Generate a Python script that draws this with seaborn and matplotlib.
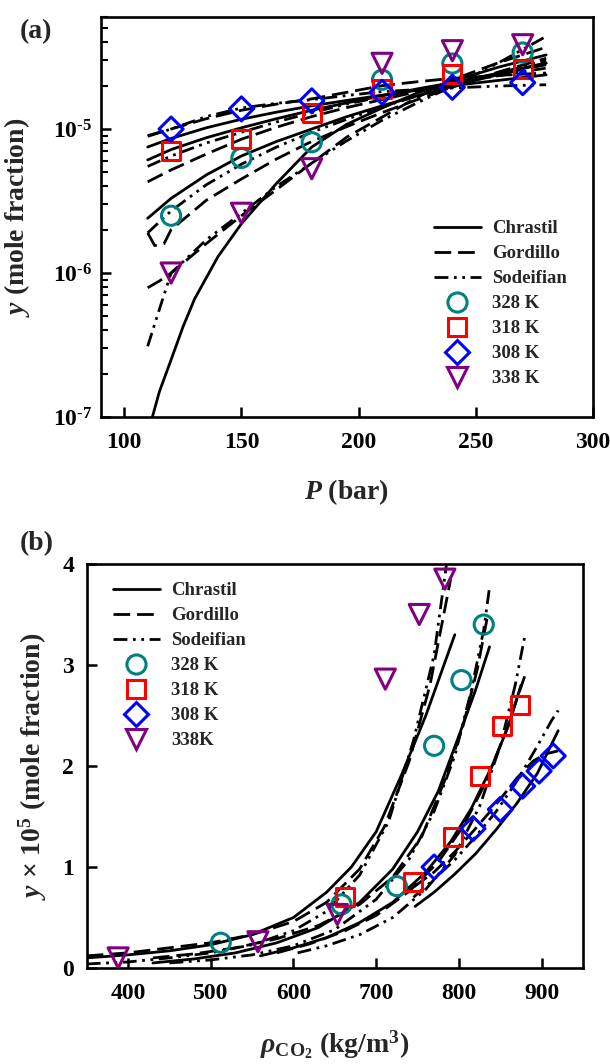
import matplotlib
matplotlib.use("Agg")
import matplotlib.pyplot as plt
from matplotlib.lines import Line2D
from matplotlib.ticker import FixedLocator, FixedFormatter, LogLocator, NullFormatter
import numpy as np
import seaborn as sns

sns.set_theme(style="ticks")
plt.rcParams.update({
    "font.family": ["Liberation Serif", "DejaVu Serif"],
    "font.weight": "bold",
    "axes.labelweight": "bold",
    "mathtext.fontset": "custom",
    "mathtext.rm": "Liberation Serif:bold",
    "mathtext.it": "Liberation Serif:italic:bold",
    "mathtext.bf": "Liberation Serif:bold",
    "axes.linewidth": 1.9,
    "axes.edgecolor": "black",
    "xtick.color": "black",
    "ytick.color": "black",
})

# ---------------- experimental solubility (y x 10^5) ----------------
temps = ["328 K", "318 K", "308 K", "338 K"]
pressure = [120, 150, 180, 210, 240, 270]            # bar
y_328 = [0.25, 0.63, 0.81, 2.2, 2.85, 3.4]
y_318 = [0.7, 0.85, 1.3, 1.9, 2.4, 2.6]
y_308 = [1.0, 1.38, 1.57, 1.8, 1.95, 2.1]
y_338 = [0.1, 0.26, 0.53, 2.86, 3.5, 3.85]
# CO2 density at each measured state (kg/m3)
rho_328 = [512, 658, 725, 770, 803, 830]
rho_318 = [662, 745, 793, 826, 852, 874]
rho_308 = [770, 817, 850, 877, 897, 914]
rho_338 = [388, 557, 653, 711, 752, 783]

# ---------------- model correlations vs pressure (y x 10^5) ----------------
p_grid = [110, 120, 135, 150, 165, 180, 195, 210, 225, 240, 260, 280]
chr_a_308 = [0.75, 0.86, 1.02, 1.17, 1.31, 1.45, 1.58, 1.72, 1.86, 2.0, 2.18, 2.38]
gor_a_308 = [0.9, 1.0, 1.18, 1.35, 1.49, 1.62, 1.8, 2.0, 2.13, 2.25, 2.36, 2.45]
sod_a_308 = [0.89, 1.0, 1.22, 1.4, 1.51, 1.6, 1.71, 1.82, 1.88, 1.93, 1.99, 2.03]
chr_a_318 = [0.61, 0.72, 0.87, 1.02, 1.18, 1.35, 1.52, 1.7, 1.9, 2.1, 2.45, 2.87]
gor_a_318 = [0.43, 0.52, 0.67, 0.85, 1.03, 1.22, 1.41, 1.6, 1.82, 2.05, 2.4, 2.8]
sod_a_318 = [0.55, 0.65, 0.8, 0.95, 1.12, 1.3, 1.49, 1.68, 1.88, 2.08, 2.35, 2.65]
chr_a_328 = [0.24, 0.33, 0.48, 0.65, 0.82, 1.0, 1.22, 1.45, 1.7, 1.98, 2.4, 2.87]
sod_a_328 = [0.19, 0.27, 0.41, 0.57, 0.75, 0.95, 1.17, 1.42, 1.7, 2.0, 2.45, 3.0]
p_gor_328 = [110, 113, 117, 120, 135, 150, 165, 180, 195, 210, 225, 240, 260, 280]
gor_a_328 = [0.19, 0.155, 0.16, 0.2, 0.32, 0.45, 0.62, 0.82, 1.04, 1.3, 1.6, 1.95, 2.5, 3.1]
p_chr_338 = [112, 115, 120, 125, 130, 140, 150, 165, 180, 195, 210, 225, 240, 260, 280]
chr_a_338 = [0.01, 0.015, 0.025, 0.042, 0.066, 0.13, 0.22, 0.42, 0.75, 1.08, 1.4, 1.78, 2.15, 2.7, 3.27]
p_338 = [110, 115, 120, 135, 150, 165, 180, 195, 210, 225, 240, 260, 280]
gor_a_338 = [0.079, 0.088, 0.1, 0.16, 0.25, 0.38, 0.58, 0.88, 1.21, 1.66, 2.2, 2.9, 3.7]
sod_a_338 = [0.031, 0.056, 0.1, 0.17, 0.26, 0.4, 0.58, 0.83, 1.15, 1.52, 1.98, 2.9, 4.4]

# ---------------- model correlations vs density (y x 10^5) ----------------
rho_chr_338 = [350, 400, 450, 500, 550, 600, 640, 670, 700, 730, 760, 795]
chr_b_338 = [0.1, 0.13, 0.17, 0.23, 0.33, 0.5, 0.75, 1.0, 1.35, 1.9, 2.5, 3.3]
rho_gor_338 = [350, 400, 450, 500, 550, 600, 640, 680, 710, 740, 765, 790]
gor_b_338 = [0.12, 0.15, 0.2, 0.25, 0.33, 0.46, 0.65, 0.98, 1.4, 2.05, 2.8, 3.85]
rho_sod_338 = [350, 400, 450, 500, 550, 600, 640, 680, 715, 745, 770, 785]
sod_b_338 = [0.04, 0.06, 0.1, 0.15, 0.23, 0.37, 0.56, 0.92, 1.45, 2.25, 3.1, 4.0]
rho_chr_328 = [430, 480, 530, 580, 630, 680, 720, 750, 775, 800, 820, 837]
chr_b_328 = [0.05, 0.09, 0.15, 0.25, 0.4, 0.65, 0.98, 1.35, 1.75, 2.3, 2.75, 3.18]
rho_gor_328 = [430, 480, 530, 580, 630, 680, 720, 755, 783, 805, 822, 835]
gor_b_328 = [0.1, 0.14, 0.2, 0.29, 0.42, 0.63, 0.9, 1.3, 1.86, 2.4, 2.95, 3.5]
rho_sod_328 = [450, 500, 550, 600, 650, 700, 740, 770, 795, 815, 830, 837]
sod_b_328 = [0.05, 0.08, 0.13, 0.22, 0.38, 0.68, 1.08, 1.55, 2.1, 2.75, 3.35, 3.77]
rho_chr_318 = [560, 600, 640, 680, 720, 760, 790, 815, 840, 860, 875]
chr_b_318 = [0.12, 0.2, 0.3, 0.45, 0.65, 0.95, 1.25, 1.58, 2.0, 2.4, 2.8]
rho_gor_318 = [580, 620, 660, 700, 740, 775, 805, 830, 855, 880]
gor_b_318 = [0.15, 0.24, 0.36, 0.52, 0.76, 1.05, 1.4, 1.8, 2.3, 2.9]
rho_sod_318 = [605, 640, 680, 720, 760, 795, 825, 850, 868, 880]
sod_b_318 = [0.15, 0.22, 0.33, 0.5, 0.78, 1.12, 1.6, 2.2, 2.8, 3.3]
rho_chr_308 = [747, 770, 795, 820, 845, 870, 895, 920]
chr_b_308 = [0.61, 0.75, 0.93, 1.13, 1.37, 1.63, 1.93, 2.35]
rho_gor_308 = [745, 770, 795, 820, 845, 870, 890, 905, 920]
gor_b_308 = [0.8, 0.95, 1.15, 1.38, 1.62, 1.88, 2.05, 2.12, 2.15]
rho_sod_308 = [745, 770, 795, 820, 845, 870, 895, 912, 920]
sod_b_308 = [0.7, 0.88, 1.07, 1.3, 1.55, 1.85, 2.2, 2.45, 2.55]

# ---------------- styles ----------------
LW = 2.0
STYLE = {
    "Chrastil": "-",
    "Gordillo": (0, (6, 2.5)),
    "Sodeifian": (0, (5, 2, 1, 2, 1, 2)),
}
MARK = {
    "328 K": ("o", "#008080", 190),
    "318 K": ("s", "#ff0000", 170),
    "308 K": ("D", "#0000ff", 150),
    "338 K": ("v", "#800080", 210),
}

curves_a = [
    ("Chrastil", p_grid, chr_a_308), ("Gordillo", p_grid, gor_a_308), ("Sodeifian", p_grid, sod_a_308),
    ("Chrastil", p_grid, chr_a_318), ("Gordillo", p_grid, gor_a_318), ("Sodeifian", p_grid, sod_a_318),
    ("Chrastil", p_grid, chr_a_328), ("Gordillo", p_gor_328, gor_a_328), ("Sodeifian", p_grid, sod_a_328),
    ("Chrastil", p_chr_338, chr_a_338), ("Gordillo", p_338, gor_a_338), ("Sodeifian", p_338, sod_a_338),
]
curves_b = [
    ("Chrastil", rho_chr_308, chr_b_308), ("Gordillo", rho_gor_308, gor_b_308), ("Sodeifian", rho_sod_308, sod_b_308),
    ("Chrastil", rho_chr_318, chr_b_318), ("Gordillo", rho_gor_318, gor_b_318), ("Sodeifian", rho_sod_318, sod_b_318),
    ("Chrastil", rho_chr_328, chr_b_328), ("Gordillo", rho_gor_328, gor_b_328), ("Sodeifian", rho_sod_328, sod_b_328),
    ("Chrastil", rho_chr_338, chr_b_338), ("Gordillo", rho_gor_338, gor_b_338), ("Sodeifian", rho_sod_338, sod_b_338),
]
exp_y = {"328 K": y_328, "318 K": y_318, "308 K": y_308, "338 K": y_338}
exp_rho = {"328 K": rho_328, "318 K": rho_318, "308 K": rho_308, "338 K": rho_338}

W, H = 610, 1064
fig = plt.figure(figsize=(W / 100, H / 100), dpi=100)


def px_axes(left, top, right, bottom):
    return fig.add_axes([left / W, 1 - bottom / H, (right - left) / W, (bottom - top) / H])


ax_a = px_axes(100.8, 17, 593, 417)
ax_b = px_axes(86.7, 564, 583, 968)

# ---------------- panel (a): solubility vs pressure ----------------
for model, x, y in curves_a:
    sns.lineplot(x=x, y=np.array(y) * 1e-5, ax=ax_a, color="black", lw=LW,
                 linestyle=STYLE[model], legend=False, sort=False, estimator=None)
for t in temps:
    m, c, s = MARK[t]
    sns.scatterplot(x=pressure, y=np.array(exp_y[t]) * 1e-5, ax=ax_a, marker=m, s=s,
                    facecolor="none", edgecolor=c, linewidth=2.2, legend=False, zorder=4)

ax_a.set_yscale("log")
ax_a.set_xlim(90, 300)
ax_a.set_ylim(1e-7, 6e-5)
ax_a.xaxis.set_major_locator(FixedLocator([100, 150, 200, 250, 300]))
ax_a.yaxis.set_major_locator(FixedLocator([1e-7, 1e-6, 1e-5]))
ax_a.yaxis.set_major_formatter(FixedFormatter(
    [r"$10^{\text{-}7}$", r"$10^{\text{-}6}$", r"$10^{\text{-}5}$"]))
ax_a.yaxis.set_minor_locator(LogLocator(base=10, subs=np.arange(2, 10)))
ax_a.yaxis.set_minor_formatter(NullFormatter())
ax_a.tick_params(axis="x", which="major", direction="in", length=7, width=1.8,
                 labelsize=17, pad=11)
ax_a.tick_params(axis="y", which="major", direction="in", length=7, width=1.8,
                 labelsize=17, pad=6)
ax_a.tick_params(axis="y", which="minor", direction="in", length=5, width=1.5)
ax_a.set_xlabel(r"$P$ (bar)", fontsize=20, fontweight="bold")
ax_a.set_ylabel(r"$y$ (mole fraction)", fontsize=20, fontweight="bold")
ax_a.xaxis.set_label_coords(0.5, -0.15)
ax_a.yaxis.set_label_coords(-0.14, 0.5)

# ---------------- panel (b): solubility vs CO2 density ----------------
for model, x, y in curves_b:
    sns.lineplot(x=x, y=y, ax=ax_b, color="black", lw=LW,
                 linestyle=STYLE[model], legend=False, sort=False, estimator=None)
for t in temps:
    m, c, s = MARK[t]
    sns.scatterplot(x=exp_rho[t], y=exp_y[t], ax=ax_b, marker=m, s=s,
                    facecolor="none", edgecolor=c, linewidth=2.2, legend=False, zorder=4)

ax_b.set_xlim(350, 950)
ax_b.set_ylim(0, 4)
ax_b.xaxis.set_major_locator(FixedLocator([400, 500, 600, 700, 800, 900]))
ax_b.yaxis.set_major_locator(FixedLocator([0, 1, 2, 3, 4]))
ax_b.tick_params(axis="x", direction="in", length=7, width=1.8, labelsize=17, pad=11)
ax_b.tick_params(axis="y", direction="in", length=7, width=1.8, labelsize=17, pad=9)
ax_b.set_xlabel(r"$\rho_{\mathrm{CO_2}}$ (kg/m$^3$)", fontsize=20, fontweight="bold")
ax_b.set_ylabel(r"$y$ × 10$^5$ (mole fraction)", fontsize=20, fontweight="bold")
ax_b.xaxis.set_label_coords(0.5, -0.15)
ax_b.yaxis.set_label_coords(-0.075, 0.5)

for ax in (ax_a, ax_b):
    for sp in ax.spines.values():
        sp.set_visible(True)
        sp.set_linewidth(1.9)
    for lab in ax.get_xticklabels() + ax.get_yticklabels():
        lab.set_fontweight("bold")


def legend_handles(names):
    hs = [Line2D([], [], color="black", lw=LW, linestyle=STYLE[k]) for k in STYLE]
    for t, name in zip(temps, names):
        m, c, s = MARK[t]
        hs.append(Line2D([], [], linestyle="none", marker=m, markersize=np.sqrt(s),
                         markerfacecolor="none", markeredgecolor=c, markeredgewidth=2.2))
    return hs, list(STYLE) + names


h, l = legend_handles(["328 K", "318 K", "308 K", "338 K"])
ax_a.legend(h, l, loc="upper left", bbox_to_anchor=(0.677, 0.492), frameon=False,
            borderpad=0, borderaxespad=0, handlelength=2.5, handletextpad=0.6,
            labelspacing=0.42, prop={"size": 13.5, "weight": "bold"})
h, l = legend_handles(["328 K", "318 K", "308 K", "338K"])
ax_b.legend(h, l, loc="upper left", bbox_to_anchor=(0.053, 0.955), frameon=False,
            borderpad=0, borderaxespad=0, handlelength=2.5, handletextpad=0.6,
            labelspacing=0.42, prop={"size": 13.5, "weight": "bold"})

fig.text(20 / W, 1 - 19 / H, "(a)", fontsize=20, fontweight="bold", va="top", ha="left")
fig.text(20 / W, 1 - 531 / H, "(b)", fontsize=20, fontweight="bold", va="top", ha="left")

fig.savefig("out.png", dpi=100)
